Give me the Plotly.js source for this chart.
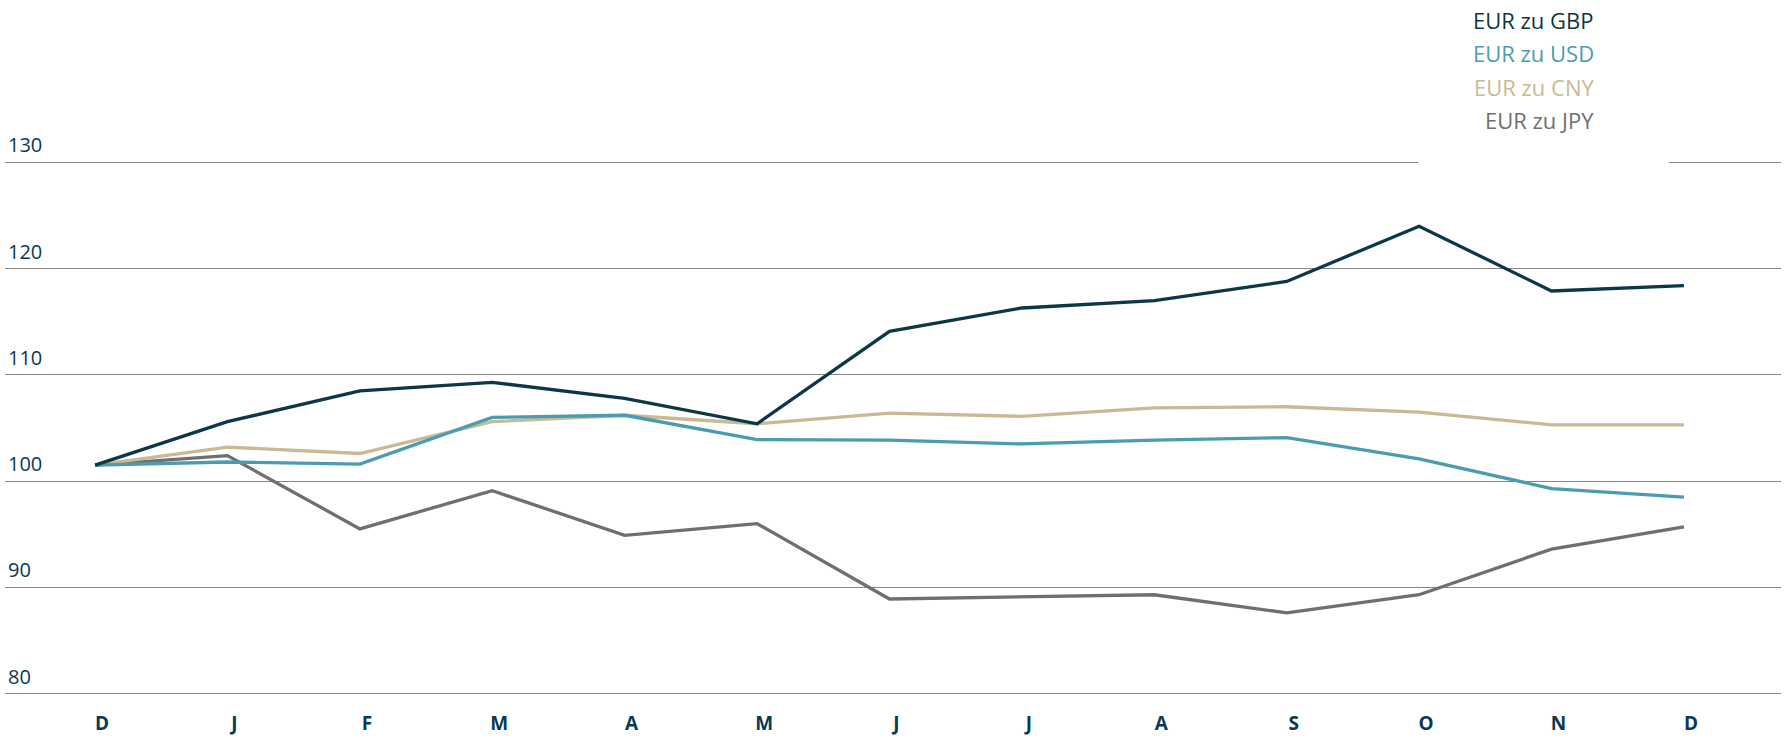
<!DOCTYPE html>
<html>
<head>
<meta charset="utf-8">
<script src="https://cdn.plot.ly/plotly-3.0.1.min.js"></script>
<style>
  html, body { margin: 0; padding: 0; background: #fff; }
  #chart { width: 1790px; height: 750px; }
</style>
</head>
<body>
<div id="chart"></div>
<script>
// month ticks, Dec to Dec
var months = ["D", "J", "F", "M", "A", "M", "J", "J", "A", "S", "O", "N", "D"];

// index values
var gbp = [101.5, 105.6, 108.5, 109.3, 107.8, 105.4, 114.1, 116.3, 117.0, 118.8, 124.0, 117.9, 118.4];
var usd = [101.5, 101.8, 101.6, 106.0, 106.2, 103.9, 103.85, 103.5, 103.85, 104.1, 102.1, 99.3, 98.5];
var cny = [101.5, 103.2, 102.6, 105.6, 106.2, 105.4, 106.4, 106.1, 106.9, 107.0, 106.5, 105.3, 105.3];
var jpy = [101.5, 102.4, 95.5, 99.1, 94.9, 96.0, 88.9, 89.1, 89.3, 87.6, 89.3, 93.6, 95.7];

var names = ["EUR zu GBP", "EUR zu USD", "EUR zu CNY", "EUR zu JPY"];
var colors = ["#0b3747", "#4a9db0", "#c9b995", "#6f6f71"];

var xs = months.map(function (m, i) { return i; });

function line(y, k) {
	return {
		x: xs,
		y: y,
		type: "scatter",
		mode: "lines",
		name: names[k],
		line: { color: colors[k], width: 3.3 },
		hoverinfo: "skip"
	};
}

// gray first so GBP ends up on top
var data = [line(jpy, 3), line(cny, 2), line(usd, 1), line(gbp, 0)];

var labelColor = "#0b3a50";
var legendY = [0.9714, 0.9243, 0.8757, 0.8286];

var annotations = names.map(function (n, k) {
	return {
		text: n,
		xref: "paper", yref: "paper",
		x: 0.8958, y: legendY[k],
		xanchor: "right", yanchor: "middle",
		showarrow: false,
		font: { family: "Open Sans", size: 22, color: colors[k] }
	};
});

var layout = {
	width: 1790,
	height: 750,
	margin: { l: 5, r: 9, t: 0, b: 50 },
	paper_bgcolor: "#fff",
	plot_bgcolor: "#fff",
	showlegend: false,
	font: { family: "Open Sans", color: labelColor },
	xaxis: {
		range: [-0.68, 12.733],
		tickvals: xs,
		ticktext: months,
		showgrid: false,
		zeroline: false,
		showline: false,
		ticks: "",
		ticklabelstandoff: 10,
		ticklabelshift: 7,
		tickfont: { family: "Open Sans", size: 19, color: labelColor, weight: "bold" },
		fixedrange: true
	},
	yaxis: {
		range: [79.39, 145.3],
		tickvals: [80, 90, 100, 110, 120, 130],
		ticklabelposition: "inside top",
		ticklabelshift: -3,
		showgrid: true,
		gridcolor: "#858585",
		gridwidth: 1,
		zeroline: false,
		showline: false,
		ticks: "",
		tickfont: { family: "Open Sans", size: 20, color: labelColor },
		fixedrange: true
	},
	shapes: [{
		// white box behind the legend hides the 130 gridline there
		type: "rect",
		xref: "paper", yref: "paper",
		x0: 0.7956, x1: 0.9369, y0: 0.74, y1: 1,
		fillcolor: "#fff",
		line: { width: 0 },
		layer: "above"
	}],
	annotations: annotations
};

Plotly.newPlot("chart", data, layout, { displayModeBar: false, staticPlot: true });
</script>
</body>
</html>
